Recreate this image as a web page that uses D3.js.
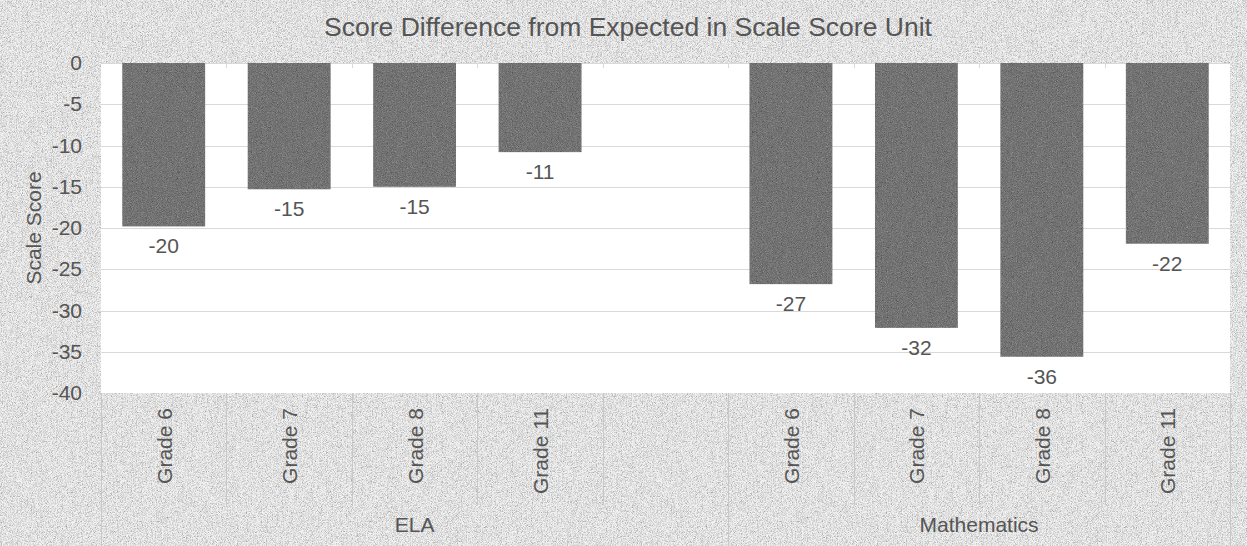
<!DOCTYPE html>
<html>
<head>
<meta charset="utf-8">
<script src="https://cdn.jsdelivr.net/npm/d3@7"></script>
<style>
  html, body { margin: 0; padding: 0; background: #e0e0e0; }
  svg { display: block; }
  text { font-family: "Liberation Sans", Arial, sans-serif; fill: #555555; }
</style>
</head>
<body>
<svg id="chart" width="1247" height="546"></svg>
<script>
// ---- data ----
const title = "Score Difference from Expected in Scale Score Unit";
const yTitle = "Scale Score";
const groups = ["ELA", "Mathematics"];
const elaGrades = ["Grade 6", "Grade 7", "Grade 8", "Grade 11", ""];
const mathGrades = ["Grade 6", "Grade 7", "Grade 8", "Grade 11"];
const elaValues = [-19.8, -15.3, -15.0, -10.8, null];
const mathValues = [-26.8, -32.1, -35.6, -21.9];
const yTicks = [0, -5, -10, -15, -20, -25, -30, -35, -40];

// ---- build rows ----
const rows = [];
elaGrades.forEach((g, i) => rows.push({ group: groups[0], grade: g, value: elaValues[i], key: groups[0] + "|" + i }));
mathGrades.forEach((g, i) => rows.push({ group: groups[1], grade: g, value: mathValues[i], key: groups[1] + "|" + i }));

const W = 1247, H = 546;
const plot = { left: 101, right: 1230, top: 63, bottom: 393 };

const svg = d3.select("#chart");
const defs = svg.append("defs");

function noiseFilter(id, offset, alpha, seed) {
  const f = defs.append("filter").attr("id", id)
    .attr("x", 0).attr("y", 0).attr("width", "100%").attr("height", "100%")
    .attr("color-interpolation-filters", "sRGB");
  f.append("feTurbulence").attr("type", "fractalNoise").attr("baseFrequency", 1.2)
    .attr("numOctaves", 1).attr("seed", seed).attr("result", "noise");
  f.append("feColorMatrix").attr("in", "noise").attr("type", "matrix")
    .attr("values", `0.7 0.7 0.7 0 ${offset}  0.7 0.7 0.7 0 ${offset}  0.7 0.7 0.7 0 ${offset}  0 0 0 0 ${alpha}`)
    .attr("result", "gray");
  f.append("feComposite").attr("in", "gray").attr("in2", "SourceGraphic").attr("operator", "in").attr("result", "clipped");
  const m = f.append("feMerge");
  m.append("feMergeNode").attr("in", "SourceGraphic");
  m.append("feMergeNode").attr("in", "clipped");
}
noiseFilter("bgNoise", -0.17, 0.55, 3);
noiseFilter("barNoise", -0.6, 0.3, 7);

// background
svg.append("rect").attr("x", 0).attr("y", 0).attr("width", W).attr("height", H)
  .attr("fill", "#e0e0e0").attr("filter", "url(#bgNoise)");

// plot area
svg.append("rect").attr("x", plot.left).attr("y", plot.top)
  .attr("width", plot.right - plot.left).attr("height", plot.bottom - plot.top)
  .attr("fill", "#ffffff");

// scales
const x = d3.scaleBand().domain(rows.map(d => d.key)).range([plot.left, plot.right]).padding(0);
const y = d3.scaleLinear().domain([0, -40]).range([plot.top, plot.bottom]);

// gridlines
svg.append("g").selectAll("line").data(yTicks.filter(t => t !== -40)).join("line")
  .attr("x1", plot.left).attr("x2", plot.right)
  .attr("y1", d => Math.round(y(d)) + 0.5).attr("y2", d => Math.round(y(d)) + 0.5)
  .attr("stroke", "#d9d9d9").attr("stroke-width", 1);

// y axis labels
const yAxis = d3.axisLeft(y).tickValues(yTicks).tickSize(0).tickPadding(0).tickFormat(d3.format("d"));
const gy = svg.append("g").attr("transform", `translate(${plot.left - 19},0)`).call(yAxis);
gy.select(".domain").remove();
gy.selectAll("text").attr("font-size", 21).style("fill", "#555555")
  .style("font-family", '"Liberation Sans", Arial, sans-serif').text(d => String(d));

// small tick marks at the top (category axis at 0)
const boundaries = rows.map(d => x(d.key)).slice(1);
svg.append("g").selectAll("line").data(boundaries).join("line")
  .attr("x1", d => Math.round(d) + 0.5).attr("x2", d => Math.round(d) + 0.5)
  .attr("y1", plot.top).attr("y2", plot.top + 5)
  .attr("stroke", "#d9d9d9");

// bars
const bw = x.bandwidth() * 0.66;
const barRows = rows.filter(d => d.value !== null);
svg.append("g").selectAll("rect").data(barRows).join("rect")
  .attr("x", d => x(d.key) + (x.bandwidth() - bw) / 2)
  .attr("y", y(0))
  .attr("width", bw)
  .attr("height", d => y(d.value) - y(0))
  .attr("fill", "#737373")
  .attr("filter", "url(#barNoise)");

// data labels
svg.append("g").selectAll("text").data(barRows).join("text")
  .attr("x", d => x(d.key) + x.bandwidth() / 2)
  .attr("y", d => y(d.value) + 27)
  .attr("text-anchor", "middle").attr("font-size", 21)
  .text(d => String(Math.round(d.value)));

// category separators
const catLines = svg.append("g");
rows.forEach((d, i) => {
  if (i === 0) return;
  const isGroupStart = d.group !== rows[i - 1].group;
  const xx = Math.round(x(d.key)) + 0.5;
  catLines.append("line").attr("x1", xx).attr("x2", xx)
    .attr("y1", plot.bottom).attr("y2", isGroupStart ? H : 505)
    .attr("stroke", "#c8c8c8").attr("stroke-width", 1);
});
[plot.left, plot.right].forEach(xx => {
  catLines.append("line").attr("x1", xx + 0.5).attr("x2", xx + 0.5)
    .attr("y1", plot.bottom).attr("y2", H).attr("stroke", "#c8c8c8");
});

// category labels
svg.append("g").selectAll("text").data(rows.filter(d => d.grade !== "")).join("text")
  .attr("transform", d => `translate(${x(d.key) + x.bandwidth() / 2 + 8},${plot.bottom + 15}) rotate(-90)`)
  .attr("text-anchor", "end").attr("font-size", 21)
  .text(d => d.grade);

// group labels
groups.forEach(g => {
  const keys = rows.filter(d => d.group === g).map(d => d.key);
  const x0 = x(keys[0]), x1 = x(keys[keys.length - 1]) + x.bandwidth();
  svg.append("text").attr("x", (x0 + x1) / 2).attr("y", 532)
    .attr("text-anchor", "middle").attr("font-size", 21).text(g);
});

// title
svg.append("text").attr("x", 628).attr("y", 36)
  .attr("text-anchor", "middle").attr("font-size", 26.5).text(title);

// y title
svg.append("text").attr("transform", `translate(41,${(plot.top + plot.bottom) / 2}) rotate(-90)`)
  .attr("text-anchor", "middle").attr("font-size", 21).text(yTitle);
</script>
</body>
</html>
